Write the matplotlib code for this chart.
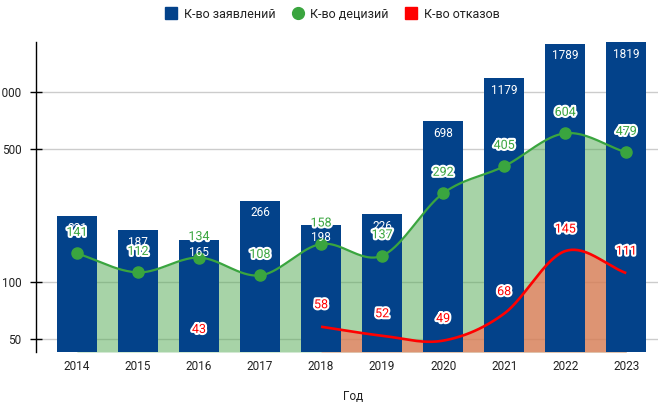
import numpy as np
import matplotlib
matplotlib.use('Agg')
import matplotlib.pyplot as plt
import matplotlib.patheffects as pe
from matplotlib.lines import Line2D

plt.rcParams['font.family'] = ['Roboto', 'DejaVu Sans']

years = ['2014', '2015', '2016', '2017', '2018', '2019', '2020', '2021', '2022', '2023']
applications = [221, 187, 165, 266, 198, 226, 698, 1179, 1789, 1819]
decisions = [141, 112, 134, 108, 158, 137, 292, 405, 604, 479]
refusals = [np.nan, np.nan, 43, np.nan, 58, 52, 49, 68, 145, 111]

BLUE = '#03428a'
GREEN = '#3aa53f'
RED = '#ff0000'


def smooth(xs, ys, n=40):
    # cubic hermite (catmull-rom) through the points, in log space
    xs = np.asarray(xs, float)
    ly = np.log10(np.asarray(ys, float))
    m = np.gradient(ly, xs)
    ox, oy = [], []
    for i in range(len(xs) - 1):
        t = np.linspace(0, 1, n)
        h = xs[i + 1] - xs[i]
        h00 = 2 * t**3 - 3 * t**2 + 1
        h10 = t**3 - 2 * t**2 + t
        h01 = -2 * t**3 + 3 * t**2
        h11 = t**3 - t**2
        yy = h00 * ly[i] + h10 * h * m[i] + h01 * ly[i + 1] + h11 * h * m[i + 1]
        ox.extend(xs[i] + t * h)
        oy.extend(yy)
    return np.array(ox), 10 ** np.array(oy)


fig = plt.figure(figsize=(6.58, 4.08), dpi=100)
ax = fig.add_axes([36 / 658, 1 - 352 / 408, 1 - 36 / 658, 310 / 408])

x = np.arange(len(years))
ymin, ymax = 42.7, 1825

ax.set_yscale('log')
ax.set_ylim(ymin, ymax)
ax.set_xlim(-0.67, 9.52)

# green area + line
gx, gy = smooth(x, decisions)
ax.fill_between(gx, ymin, gy, color='#51a951', alpha=0.5, lw=0, zorder=1)

# red area + line (only continuous part)
rv = np.array(refusals, float)
mask = ~np.isnan(rv)
idx = x[mask]
vals = rv[mask]
seg = idx >= 4
rx, ry = smooth(idx[seg], vals[seg])
ax.fill_between(rx, ymin, ry, color='#fb7258', alpha=0.65, lw=0, zorder=2)

ax.bar(x, applications, width=0.65, color=BLUE, zorder=3)

ax.plot(gx, gy, color=GREEN, lw=1.6, zorder=4)
ax.plot(x, decisions, 'o', color=GREEN, ms=8, zorder=4)
ax.plot(rx, ry, color=RED, lw=1.9, zorder=5, solid_capstyle='butt')

halo = [pe.withStroke(linewidth=3, foreground='white')]
for i, v in enumerate(applications):
    ax.annotate(str(v), (i, v), xytext=(0, -12), textcoords='offset pixels',
                ha='center', va='center', color='white', fontsize=8.5, zorder=6)
for i, v in enumerate(decisions):
    ax.annotate(str(v), (i, v), xytext=(0, 21), textcoords='offset pixels',
                ha='center', va='center', color=GREEN, fontsize=9, zorder=7,
                path_effects=halo)
for i, v in enumerate(refusals):
    if np.isnan(v):
        continue
    ax.annotate(str(int(v)), (i, v), xytext=(0, 22), textcoords='offset pixels',
                ha='center', va='center', color=RED, fontsize=9, zorder=7,
                path_effects=halo, annotation_clip=False)

ax.set_yticks([50, 100, 500, 1000])
ax.set_yticklabels(['50', '100', '500', '1000'])
ax.yaxis.set_minor_locator(matplotlib.ticker.NullLocator())
ax.tick_params(axis='y', direction='inout', length=9, width=1, pad=6, labelsize=8.5,
               labelcolor='#222222')
ax.set_xticks(x)
ax.set_xticklabels(years)
ax.tick_params(axis='x', length=0, pad=6, labelsize=8.5, labelcolor='#222222')
ax.grid(axis='y', color='#cccccc', lw=1, zorder=0)
ax.set_axisbelow(True)
for s in ['top', 'right', 'bottom']:
    ax.spines[s].set_visible(False)
ax.spines['left'].set_linewidth(1)

fig.text(353 / 658, 1 - 396 / 408, 'Год', ha='center', va='center',
         fontsize=8.5, color='#222222')

handles = [
    Line2D([], [], marker='s', ls='', color=BLUE, ms=8),
    Line2D([], [], marker='o', ls='', color=GREEN, ms=8.5),
    Line2D([], [], marker='s', ls='', color=RED, ms=8),
]
fig.legend(handles, ['К-во заявлений', 'К-во децизий', 'К-во отказов'],
           loc='center', bbox_to_anchor=(333 / 658, 1 - 14 / 408), ncol=3,
           frameon=False, fontsize=9, handlelength=0.8, handletextpad=0.6,
           columnspacing=1.4, labelcolor='#222222')

fig.savefig('out.png', dpi=100)
